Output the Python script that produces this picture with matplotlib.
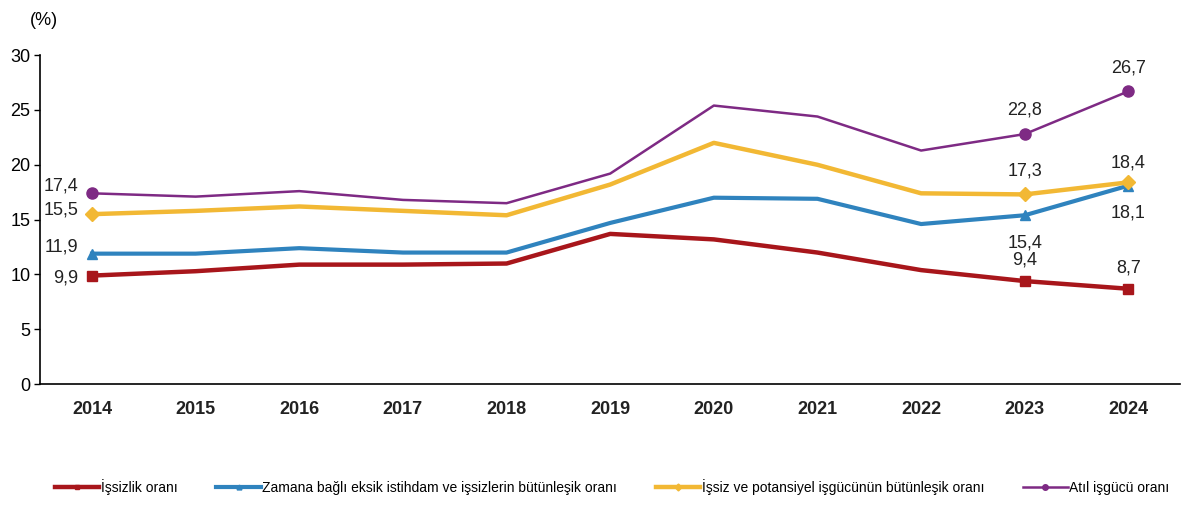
import matplotlib.pyplot as plt

years = [2014, 2015, 2016, 2017, 2018, 2019, 2020, 2021, 2022, 2023, 2024]

issizlik = [9.9, 10.3, 10.9, 10.9, 11.0, 13.7, 13.2, 12.0, 10.4, 9.4, 8.7]
zamana_bagli = [11.9, 11.9, 12.4, 12.0, 12.0, 14.7, 17.0, 16.9, 14.6, 15.4, 18.1]
potansiyel = [15.5, 15.8, 16.2, 15.8, 15.4, 18.2, 22.0, 20.0, 17.4, 17.3, 18.4]
atil = [17.4, 17.1, 17.6, 16.8, 16.5, 19.2, 25.4, 24.4, 21.3, 22.8, 26.7]

labels = ["İşsizlik oranı",
          "Zamana bağlı eksik istihdam ve işsizlerin bütünleşik oranı",
          "İşsiz ve potansiyel işgücünün bütünleşik oranı",
          "Atıl işgücü oranı"]

plt.rcParams['font.family'] = ['Liberation Sans', 'DejaVu Sans']

fig = plt.figure(figsize=(12, 5.15), dpi=100)
ax = fig.add_axes([0.0335, 0.254, 0.950, 0.639])

# (values, color, marker, linewidth, marker size)
series = [
    (issizlik, "#A8161B", "s", 3.2, 7),
    (zamana_bagli, "#2F83BE", "^", 3.0, 7),
    (potansiyel, "#F2B834", "D", 3.2, 7),
    (atil, "#7E2A84", "o", 1.8, 8),
]

marked = [0, 9, 10]  # markers only at 2014, 2023, 2024
for (vals, col, mk, lw, ms), lab in zip(series, labels):
    ax.plot(years, vals, color=col, lw=lw, label=lab, marker=mk, ms=ms,
            markevery=marked, solid_joinstyle="round")

# value labels
fs = 13
def lab(vals, i, dx, dy, ha="center"):
    ax.annotate(f"{vals[i]:.1f}".replace(".", ","), (years[i], vals[i]),
                xytext=(dx, dy), textcoords="offset points", ha=ha, va="center",
                fontsize=fs, color="#222222")

lab(issizlik, 0, -10, -2, "right")
lab(zamana_bagli, 0, -10, 5, "right")
lab(potansiyel, 0, -10, 3, "right")
lab(atil, 0, -10, 5, "right")
lab(atil, 9, 0, 17)
lab(atil, 10, 0, 17)
lab(potansiyel, 9, 0, 17)
lab(potansiyel, 10, 0, 14)
lab(zamana_bagli, 9, 0, -20)
lab(zamana_bagli, 10, 0, -20)
lab(issizlik, 9, 0, 15)
lab(issizlik, 10, 0, 15)

ax.set_xlim(2013.5, 2024.5)
ax.set_ylim(0, 30)
ax.set_yticks(range(0, 31, 5))
ax.set_xticks(years)
ax.tick_params(axis="x", length=0, pad=12, labelsize=13)
ax.tick_params(axis="y", length=4, width=1, labelsize=13, pad=3)
for t in ax.get_xticklabels():
    t.set_fontweight("bold")
    t.set_color("#222222")
for s in ["top", "right"]:
    ax.spines[s].set_visible(False)
ax.spines["left"].set_linewidth(1.2)
ax.spines["bottom"].set_linewidth(1.2)

fig.text(0.025, 0.96, "(%)", fontsize=13, ha="left", va="center")

fig.legend(loc="center", bbox_to_anchor=(0.51, 0.055), ncol=4, frameon=False,
           fontsize=10, handlelength=3.2, handletextpad=0.1, columnspacing=2.8,
           markerscale=0.5)

fig.savefig("out.png", dpi=100)
